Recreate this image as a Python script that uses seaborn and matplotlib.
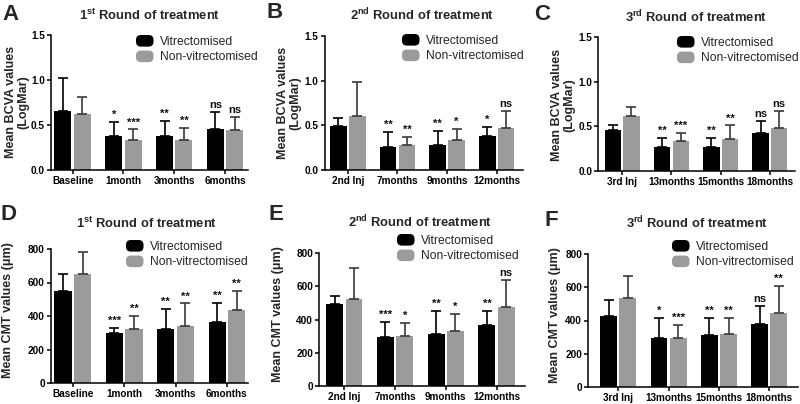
import matplotlib
matplotlib.use("Agg")
import matplotlib.pyplot as plt
import matplotlib.patches as mpatches
from matplotlib.legend_handler import HandlerPatch
import numpy as np
import pandas as pd
import seaborn as sns

sns.set_style("white")
plt.rcParams['font.family'] = ['Liberation Sans', 'DejaVu Sans']
plt.rcParams['mathtext.fontset'] = 'custom'
plt.rcParams['mathtext.rm'] = 'Liberation Sans'
plt.rcParams['mathtext.bf'] = 'Liberation Sans:bold'

groups = ["Vitrectomised", "Non-vitrectomised"]

# ---- Data (mean, SD) ----
cats_A = ["Baseline", "1month", "3months", "6months"]
bcva1_v = [0.66, 0.38, 0.375, 0.45]
bcva1_v_sd = [0.36, 0.15, 0.165, 0.19]
bcva1_nv = [0.62, 0.33, 0.33, 0.445]
bcva1_nv_sd = [0.19, 0.12, 0.135, 0.14]
sig_A_v = ["", "*", "**", "ns"]
sig_A_nv = ["", "***", "**", "ns"]

cats_B = ["2nd Inj", "7months", "9months", "12months"]
bcva2_v = [0.49, 0.26, 0.285, 0.38]
bcva2_v_sd = [0.095, 0.17, 0.15, 0.105]
bcva2_nv = [0.61, 0.28, 0.34, 0.47]
bcva2_nv_sd = [0.37, 0.09, 0.115, 0.185]
sig_B_v = ["", "**", "**", "*"]
sig_B_nv = ["", "**", "*", "ns"]

cats_C = ["3rd Inj", "13months", "15months", "18months"]
bcva3_v = [0.46, 0.27, 0.27, 0.43]
bcva3_v_sd = [0.05, 0.10, 0.10, 0.13]
bcva3_nv = [0.62, 0.34, 0.36, 0.48]
bcva3_nv_sd = [0.10, 0.09, 0.15, 0.19]
sig_C_v = ["", "**", "**", "ns"]
sig_C_nv = ["", "***", "**", "ns"]

cmt1_v = [551, 297, 322, 366]
cmt1_v_sd = [100, 33, 120, 114]
cmt1_nv = [651, 324, 338, 436]
cmt1_nv_sd = [133, 74, 137, 115]
sig_D_v = ["", "***", "**", "**"]
sig_D_nv = ["", "**", "**", "**"]

cmt2_v = [495, 293, 315, 369]
cmt2_v_sd = [44, 92, 134, 80]
cmt2_nv = [521, 303, 329, 475]
cmt2_nv_sd = [186, 78, 106, 164]
sig_E_v = ["", "***", "**", "**"]
sig_E_nv = ["", "*", "*", "ns"]

cmt3_v = [430, 293, 311, 376]
cmt3_v_sd = [91, 125, 102, 113]
cmt3_nv = [535, 297, 317, 444]
cmt3_nv_sd = [132, 77, 98, 164]
sig_F_v = ["", "*", "**", "ns"]
sig_F_nv = ["", "***", "**", "**"]

colors = ["#000000", "#9b9b9b"]
err_colors = ["#000000", "#3a3a3a"]

W, H = 800, 404
fig = plt.figure(figsize=(W / 100, H / 100), dpi=100)


def px_axes(x0, x1, ytop, ybot):
    return fig.add_axes([x0 / W, 1 - ybot / H, (x1 - x0) / W, (ybot - ytop) / H])


class RoundHandler(HandlerPatch):
    def create_artists(self, legend, orig_handle, xdescent, ydescent,
                       width, height, fontsize, trans):
        p = mpatches.FancyBboxPatch((-xdescent + 1.5, -ydescent + 1.5),
                                    width - 3, height - 3,
                                    boxstyle="round,pad=1.5,rounding_size=3.5",
                                    facecolor=orig_handle.get_facecolor(),
                                    edgecolor='none', transform=trans)
        return [p]


panels = [
    dict(letter="A", cats=cats_A, v=bcva1_v, vsd=bcva1_v_sd, nv=bcva1_nv, nvsd=bcva1_nv_sd,
         sv=sig_A_v, snv=sig_A_nv, rnd="1", sup="st", rect=(50.7, 248, 35, 170), xlim=(-0.43, 3.45),
         ylim=(0, 1.5), yticks=[0, 0.5, 1.0, 1.5], fmt="{:.1f}", ylabel="Mean BCVA values\n(LogMar)",
         title_xy=(150, 15), letter_xy=(2, 14), ylab_xy=(17, 102), leg=(136, 35)),
    dict(letter="B", cats=cats_B, v=bcva2_v, vsd=bcva2_v_sd, nv=bcva2_nv, nvsd=bcva2_nv_sd,
         sv=sig_B_v, snv=sig_B_nv, rnd="2", sup="nd", rect=(324.5, 523, 36, 170), xlim=(-0.47, 3.53),
         ylim=(0, 1.5), yticks=[0, 0.5, 1.0, 1.5], fmt="{:.1f}", ylabel="Mean BCVA values\n(LogMar)",
         title_xy=(422, 15), letter_xy=(267, 13), ylab_xy=(289, 103), leg=(402, 34)),
    dict(letter="C", cats=cats_C, v=bcva3_v, vsd=bcva3_v_sd, nv=bcva3_nv, nvsd=bcva3_nv_sd,
         sv=sig_C_v, snv=sig_C_nv, rnd="3", sup="rd", rect=(598, 795, 37, 171), xlim=(-0.49, 3.51),
         ylim=(0, 1.5), yticks=[0, 0.5, 1.0, 1.5], fmt="{:.1f}", ylabel="Mean BCVA values\n(LogMar)",
         title_xy=(696, 17), letter_xy=(534, 14), ylab_xy=(563, 105), leg=(677, 36)),
    dict(letter="D", cats=cats_A, v=cmt1_v, vsd=cmt1_v_sd, nv=cmt1_nv, nvsd=cmt1_nv_sd,
         sv=sig_D_v, snv=sig_D_nv, rnd="1", sup="st", rect=(50.7, 248, 249, 383), xlim=(-0.43, 3.41),
         ylim=(0, 800), yticks=[0, 200, 400, 600, 800], fmt="{:d}", ylabel="Mean CMT values (\u03bcm)",
         title_xy=(147, 223), letter_xy=(1, 215), ylab_xy=(8, 310), leg=(126, 240)),
    dict(letter="E", cats=cats_B, v=cmt2_v, vsd=cmt2_v_sd, nv=cmt2_nv, nvsd=cmt2_nv_sd,
         sv=sig_E_v, snv=sig_E_nv, rnd="2", sup="nd", rect=(319, 525, 253, 386), xlim=(-0.5, 3.56),
         ylim=(0, 800), yticks=[0, 200, 400, 600, 800], fmt="{:d}", ylabel="Mean CMT values (\u03bcm)",
         title_xy=(420, 222), letter_xy=(269, 214), ylab_xy=(278, 314), leg=(397, 234)),
    dict(letter="F", cats=cats_C, v=cmt3_v, vsd=cmt3_v_sd, nv=cmt3_nv, nvsd=cmt3_nv_sd,
         sv=sig_F_v, snv=sig_F_nv, rnd="3", sup="rd", rect=(588, 798, 254, 387), xlim=(-0.6, 3.57),
         ylim=(0, 800), yticks=[0, 200, 400, 600, 800], fmt="{:d}", ylabel="Mean CMT values (\u03bcm)",
         title_xy=(697, 223), letter_xy=(544, 220), ylab_xy=(555, 315), leg=(672, 240)),
]

for p in panels:
    ax = px_axes(*p["rect"])
    df = pd.DataFrame({
        "time": list(p["cats"]) * 2,
        "group": [groups[0]] * 4 + [groups[1]] * 4,
        "value": list(p["v"]) + list(p["nv"]),
    })
    sns.barplot(data=df, x="time", y="value", hue="group", order=p["cats"], hue_order=groups,
                palette=colors, width=0.76, gap=0.12, errorbar=None, linewidth=0,
                saturation=1, ax=ax, legend=False)
    sds = [p["vsd"], p["nvsd"]]
    means = [p["v"], p["nv"]]
    sigs = [p["sv"], p["snv"]]
    bar_conts = list(ax.containers)
    for gi, cont in enumerate(bar_conts):
        xs = [b.get_x() + b.get_width() / 2 for b in cont.patches]
        m = np.array(means[gi], dtype=float)
        s = np.array(sds[gi], dtype=float)
        ax.errorbar(xs, m, yerr=[np.zeros_like(s), s], fmt='none', ecolor=err_colors[gi],
                    elinewidth=1.2, capsize=3.4, capthick=1.2, zorder=3)
        for x, mm, ss, lab in zip(xs, m, s, sigs[gi]):
            if lab:
                ax.annotate(lab, (x, mm + ss), xytext=(0, 1.5), textcoords='offset points',
                            ha='center', va='bottom', fontsize=8, fontweight='bold',
                            color='#111111')
    ax.set_xlim(*p["xlim"])
    ax.set_ylim(*p["ylim"])
    ax.set_yticks(p["yticks"])
    ax.set_yticklabels([p["fmt"].format(t) for t in p["yticks"]])
    ax.set_xlabel("")
    ax.set_ylabel("")
    for side in ["top", "right"]:
        ax.spines[side].set_visible(False)
    for side in ["left", "bottom"]:
        ax.spines[side].set_color("black")
        ax.spines[side].set_linewidth(1.1)
    ax.tick_params(axis='both', direction='out', length=3.0, width=1.1, color='black',
                   labelsize=7.2, pad=1.2, labelcolor='black', bottom=True, left=True)
    ax.tick_params(axis='x', pad=1.5)
    for lbl in ax.get_xticklabels() + ax.get_yticklabels():
        lbl.set_fontweight('bold')
    ax.grid(False)
    ax.set_facecolor('white')

    handles = [mpatches.Patch(facecolor=c) for c in colors]
    lx, ly = p["leg"]
    ax.legend(handles, groups, loc='upper left', bbox_to_anchor=(lx / W, 1 - ly / H),
              bbox_transform=fig.transFigure, frameon=False, borderpad=0, borderaxespad=0,
              fontsize=8.7, handlelength=1.45, handleheight=1.1, handletextpad=0.55,
              labelspacing=0.22, handler_map={mpatches.Patch: RoundHandler()})

    tx, ty = p["title_xy"]
    fig.text(tx / W, 1 - ty / H,
             r"$\mathbf{" + p["rnd"] + "^{" + p["sup"] + "}}$" + " Round of treatment",
             ha='center', va='center', fontsize=9.4, fontweight='bold')
    lx2, ly2 = p["letter_xy"]
    fig.text(lx2 / W, 1 - ly2 / H, p["letter"], ha='left', va='center',
             fontsize=16, fontweight='bold')
    yx, yy = p["ylab_xy"]
    fig.text(yx / W, 1 - yy / H, p["ylabel"], rotation=90, ha='center', va='center',
             fontsize=9.0, fontweight='bold', linespacing=1.05, multialignment='center')

fig.savefig("out.png", dpi=100, facecolor='white')
